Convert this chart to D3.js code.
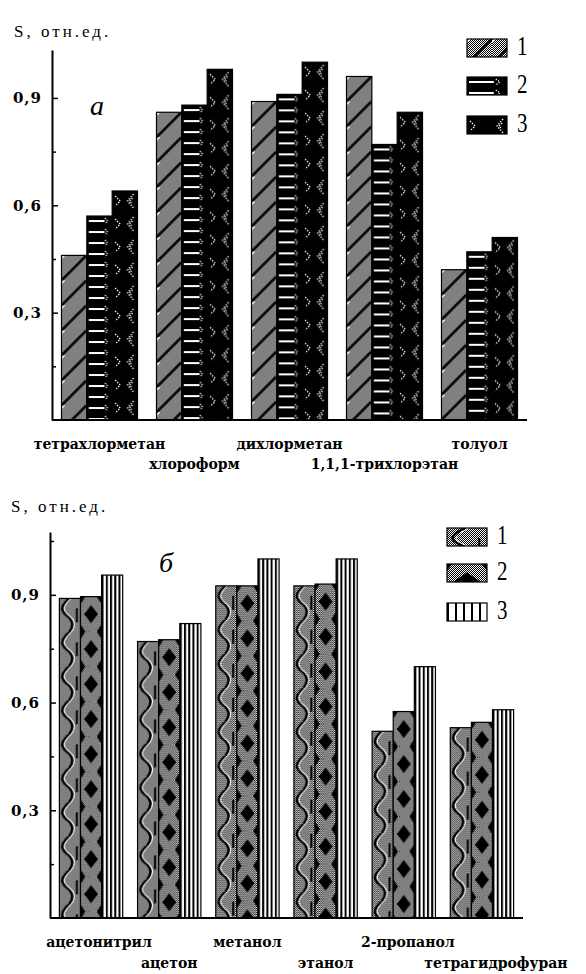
<!DOCTYPE html>
<html><head><meta charset="utf-8">
<script src="https://cdn.jsdelivr.net/npm/d3@7"></script>
<style>body{margin:0;background:#fff} svg{display:block}</style>
</head><body>
<script>
// ---- data ----
const categoriesA = ["тетрахлорметан","хлороформ","дихлорметан","1,1,1-трихлорэтан","толуол"];
const series1A = [0.46, 0.86, 0.89, 0.96, 0.42];
const series2A = [0.57, 0.88, 0.91, 0.77, 0.47];
const series3A = [0.64, 0.98, 1.00, 0.86, 0.51];
const categoriesB = ["ацетонитрил","ацетон","метанол","этанол","2-пропанол","тетрагидрофуран"];
const series1B = [0.89, 0.77, 0.925, 0.925, 0.52, 0.53];
const series2B = [0.895, 0.775, 0.925, 0.93, 0.575, 0.545];
const series3B = [0.955, 0.82, 1.00, 1.00, 0.70, 0.58];
const seriesNames = ["1","2","3"];
const yTickValues = [0.3, 0.6, 0.9];
const yMinorA = [0.15, 0.45, 0.75];
const yMinorB = [0.15, 0.45, 0.75, 1.05];
const axisTitle = "S, отн.ед.";
const panelLetters = ["а","б"];

const W = 586, H = 974;
const svg = d3.select("body").append("svg").attr("width", W).attr("height", H);
const defs = svg.append("defs");
const fmt = d => d3.format(".1f")(d).replace(".", ",");

// checker (50% dither)
const chk = defs.append("pattern").attr("id","chk").attr("patternUnits","userSpaceOnUse")
  .attr("width",2).attr("height",2);
chk.append("rect").attr("width",2).attr("height",2).attr("fill","#fff");
chk.append("rect").attr("width",1).attr("height",1).attr("fill","#000");
chk.append("rect").attr("x",1).attr("y",1).attr("width",1).attr("height",1).attr("fill","#000");

let pid = 0;
function makePattern(kind, x, y, w) {
  const id = "p" + (pid++);
  let ph;
  if (kind === "A0") ph = 25;
  else if (kind === "A1") ph = 11;
  else if (kind === "A2") ph = 23;
  else if (kind === "B0") ph = 34;
  else if (kind === "B1") ph = 35;
  else ph = 10;
  const pw = kind === "B2" ? w / 5 : (kind === "A0" ? 25 : w);
  const p = defs.append("pattern").attr("id", id).attr("patternUnits","userSpaceOnUse")
    .attr("x", x).attr("y", y).attr("width", pw).attr("height", ph);
  if (kind === "A0") {
    p.append("rect").attr("width",pw).attr("height",ph).attr("fill","url(#chk)");
    [[0,25,25,0],[-3,3,3,-3],[22,28,28,22]].forEach(s =>
      p.append("line").attr("x1",s[0]).attr("y1",s[1]).attr("x2",s[2]).attr("y2",s[3])
        .attr("stroke","#000").attr("stroke-width",2.2));
    [[3,25,25,3],[0,3,3,0]].forEach(s =>
      p.append("line").attr("x1",s[0]).attr("y1",s[1]).attr("x2",s[2]).attr("y2",s[3])
        .attr("stroke","#fff").attr("stroke-width",1));
  } else if (kind === "A1") {
    p.append("rect").attr("width",pw).attr("height",ph).attr("fill","#000");
    p.append("rect").attr("x",2).attr("y",4).attr("width",w*0.62).attr("height",2).attr("fill","#fff");
    p.append("polyline").attr("points",`${w*0.72},2 ${w*0.82},5 ${w*0.72},8`)
      .attr("fill","none").attr("stroke","#fff").attr("stroke-width",1.2).attr("stroke-dasharray","1.3 1.3");
  } else if (kind === "A2") {
    p.append("rect").attr("width",pw).attr("height",ph).attr("fill","#000");
    p.append("polyline").attr("points",`3,5 8,10 3,15`)
      .attr("fill","none").attr("stroke","#fff").attr("stroke-width",1.3).attr("stroke-dasharray","1.4 1.4");
    p.append("polyline").attr("points",`${w-4},3 ${w-10},10 ${w-4},17`)
      .attr("fill","none").attr("stroke","#fff").attr("stroke-width",1.3).attr("stroke-dasharray","1.4 1.4");
    p.append("polyline").attr("points",`${w-5},7 ${w-8},10 ${w-5},13`)
      .attr("fill","none").attr("stroke","#fff").attr("stroke-width",1.2).attr("stroke-dasharray","1.4 1.4");
  } else if (kind === "B0") {
    p.append("rect").attr("width",pw).attr("height",ph).attr("fill","url(#chk)");
    p.append("path").attr("d",`M${w*0.45},0 C${w*0.05},8 ${w*0.05},12 ${w*0.35},17 S${w*0.7},28 ${w*0.45},34`)
      .attr("fill","none").attr("stroke","#000").attr("stroke-width",2.5);
    p.append("path").attr("d",`M${w*0.55},0 C${w*0.15},8 ${w*0.15},12 ${w*0.45},17 S${w*0.8},28 ${w*0.55},34`)
      .attr("fill","none").attr("stroke","#fff").attr("stroke-width",1);
    p.append("rect").attr("x",w*0.78).attr("y",10).attr("width",2).attr("height",14).attr("fill","#000");
  } else if (kind === "B1") {
    p.append("rect").attr("width",pw).attr("height",ph).attr("fill","url(#chk)");
    const c = ph/2, hw = w*0.33;
    p.append("polygon").attr("points",`${w/2},${c-9} ${w/2+hw},${c} ${w/2},${c+9} ${w/2-hw},${c}`).attr("fill","#000");
    [0, ph].forEach(yy => {
      p.append("polygon").attr("points",`0,${yy-7} 5,${yy} 0,${yy+7}`).attr("fill","#000");
      p.append("polygon").attr("points",`${w},${yy-7} ${w-5},${yy} ${w},${yy+7}`).attr("fill","#000");
    });
  } else {
    p.append("rect").attr("width",pw).attr("height",ph).attr("fill","#fff");
    p.append("rect").attr("width",2).attr("height",ph).attr("fill","#000");
  }
  return "url(#" + id + ")";
}

function drawPanel(cfg) {
  const g = svg.append("g");
  const y = d3.scaleLinear().domain([0, cfg.yMax]).range([cfg.y0, cfg.yTop]);
  const x0 = d3.scaleBand().domain(cfg.categories).range([cfg.xL, cfg.xR])
    .paddingInner(cfg.pIn).paddingOuter(cfg.pOut);
  const x1 = d3.scaleBand().domain(seriesNames).range([0, x0.bandwidth()]).padding(0);
  const values = [cfg.s1, cfg.s2, cfg.s3];

  cfg.categories.forEach((c, i) => {
    seriesNames.forEach((s, j) => {
      const bx = x0(c) + x1(s), bw = x1.bandwidth();
      const v = values[j][i];
      g.append("rect").attr("x", bx).attr("y", y(v)).attr("width", bw).attr("height", y(0) - y(v))
        .attr("fill", makePattern(cfg.kinds[j], bx, y(v), bw))
        .attr("stroke","#000").attr("stroke-width",1.2);
    });
  });

  // y axis
  const ax = g.append("g").attr("transform", `translate(${cfg.xL},0)`)
    .call(d3.axisLeft(y).tickValues(yTickValues).tickSizeInner(-6).tickSizeOuter(0)
      .tickPadding(10).tickFormat(fmt));
  ax.select(".domain").attr("stroke","#000").attr("stroke-width",2);
  ax.selectAll(".tick line").attr("stroke","#000").attr("stroke-width",1.5);
  ax.selectAll(".tick text").attr("font-family","DejaVu Serif").attr("font-weight","bold")
    .attr("font-size",15).attr("fill","#000").attr("letter-spacing",1);
  const axm = g.append("g").attr("transform", `translate(${cfg.xL},0)`)
    .call(d3.axisLeft(y).tickValues(cfg.minor).tickSizeInner(-4).tickSizeOuter(0).tickFormat(""));
  axm.select(".domain").remove();
  axm.selectAll(".tick line").attr("stroke","#000").attr("stroke-width",1.5);

  // baseline
  g.append("line").attr("x1", cfg.xL).attr("x2", cfg.xR).attr("y1", y(0)).attr("y2", y(0))
    .attr("stroke","#000").attr("stroke-width",2);

  // category labels
  cfg.categories.forEach((c, i) => {
    g.append("text").attr("x", x0(c) + x0.bandwidth()/2 + (cfg.labelDx ? cfg.labelDx[i] : 0))
      .attr("y", y(0) + (i % 2 === 0 ? cfg.row1 : cfg.row2))
      .attr("text-anchor","middle").attr("font-family","DejaVu Serif").attr("font-weight","bold")
      .attr("font-size",14).attr("fill","#000").text(c);
  });

  // axis title
  g.append("text").attr("x", cfg.titleX).attr("y", cfg.titleY).attr("font-family","Liberation Serif")
    .attr("font-size",17).attr("letter-spacing",3).attr("fill","#000").text(axisTitle);

  // panel letter
  g.append("text").attr("x", cfg.letterX).attr("y", cfg.letterY).attr("font-family","Liberation Serif")
    .attr("font-style","italic").attr("font-size",28).attr("fill","#000").text(cfg.letter);

  // legend
  seriesNames.forEach((s, j) => {
    const ly = cfg.legY[j];
    g.append("rect").attr("x", cfg.legX).attr("y", ly).attr("width", 40).attr("height", 18)
      .attr("fill", makePattern(cfg.kinds[j], cfg.legX, ly, 40))
      .attr("stroke","#000").attr("stroke-width",1.2);
    g.append("text").attr("transform", `translate(${cfg.legX + 50},${ly + 16}) scale(1,1.3)`)
      .attr("font-family","Liberation Serif").attr("font-size",21).attr("fill","#000").text(s);
  });
}

drawPanel({
  categories: categoriesA, s1: series1A, s2: series2A, s3: series3A,
  kinds: ["A0","A1","A2"], yMax: 1.034, y0: 420, yTop: 50, xL: 52, xR: 527,
  pIn: 0.2, pOut: 0.1, minor: yMinorA, row1: 29, row2: 49,
  titleX: 14, titleY: 37, letter: panelLetters[0], letterX: 90, letterY: 115,
  legX: 467, legY: [39, 77, 116]
});
drawPanel({
  categories: categoriesB, s1: series1B, s2: series2B, s3: series3B,
  kinds: ["B0","B1","B2"], yMax: 1.075, y0: 918, yTop: 532, xL: 50, xR: 523,
  pIn: 0.19, pOut: 0.12, minor: yMinorB, row1: 29, row2: 50,
  labelDx: [8, 0, 0, 0, 4, 14],
  titleX: 11, titleY: 512, letter: panelLetters[1], letterX: 159, letterY: 572,
  legX: 447, legY: [528, 564, 603]
});
</script>
</body></html>
